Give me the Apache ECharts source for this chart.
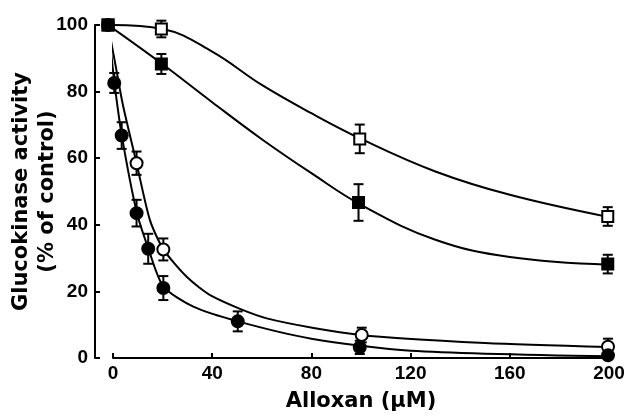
<!DOCTYPE html>
<html>
<head>
<meta charset="utf-8">
<script src="https://cdn.jsdelivr.net/npm/echarts@6/dist/echarts.min.js"></script>
<style>
  html, body { margin: 0; padding: 0; background: #fff; }
  #chart { width: 631px; height: 416px; }
</style>
</head>
<body>
<div id="chart"></div>
<script>
// x ticks / y ticks
const xTicks = [0, 40, 80, 120, 160, 200]
const yTicks = [0, 20, 40, 60, 80, 100]

// open squares
const sqOpenX = [-2, 19.5, 99.5, 199.5]
const sqOpenY = [100, 98.8, 65.8, 42.5]
const sqOpenErr = [0, 2.5, 4.3, 2.8]
const sqOpenCurveX = [-2, 20, 40, 60, 80, 100, 130, 160, 200]
const sqOpenCurveY = [100, 98.8, 92, 82, 73.5, 65.8, 56, 49, 42.3]

// filled squares
const sqFillX = [-2, 19.5, 99, 199.5]
const sqFillY = [100, 88.3, 46.7, 28.2]
const sqFillErr = [0, 3, 5.5, 2.8]
const sqFillCurveX = [-2, 20, 40, 60, 80, 100, 130, 160, 200]
const sqFillCurveY = [100, 88.2, 76.8, 65.7, 55.5, 46, 35.5, 30.3, 28]

// open circles
const cOpenX = [-2, 9.5, 20.3, 100.3, 199.6]
const cOpenY = [100, 58.5, 32.6, 6.9, 3.4]
const cOpenErr = [0, 3.5, 3.3, 2.2, 2.4]
const cOpenCurveX = [-2, 1, 4, 9.5, 14.9, 20.3, 29.7, 40.3, 62, 100, 150, 200]
const cOpenCurveY = [100, 88, 76, 58.5, 41.4, 32.7, 24.4, 18.4, 11.9, 6.9, 4.5, 3.3]

// filled circles
const cFillX = [0.5, 3.5, 9.5, 14.2, 20.3, 50.3, 99.5, 199.6]
const cFillY = [82.6, 66.8, 43.5, 32.8, 21, 11, 3.2, 0.8]
const cFillErr = [3, 4, 4, 4.5, 3.6, 3, 2, 0.8]
const cFillCurveX = [-2, -0.8, 0.5, 3.5, 9.5, 14.2, 20.3, 32.4, 50.3, 80, 120, 200]
const cFillCurveY = [100, 92, 83, 67, 44, 33, 21.5, 15.4, 11, 5.8, 2.2, 0.5]

const zip = (a, b, c) => a.map((v, i) => (c ? [v, b[i], c[i]] : [v, b[i]]))

const chart = echarts.init(document.getElementById('chart'))

// vertical error bar with caps
const errRender = (params, api) => {
  const x = api.value(0)
  const y = api.value(1)
  const e = api.value(2)
  if (!e) return null
  const top = api.coord([x, y + e])
  const bot = api.coord([x, y - e])
  const hw = 5
  const st = { stroke: '#000', lineWidth: 2 }
  return {
    type: 'group',
    children: [
      { type: 'line', shape: { x1: top[0], y1: top[1], x2: bot[0], y2: bot[1] }, style: st },
      { type: 'line', shape: { x1: top[0] - hw, y1: top[1], x2: top[0] + hw, y2: top[1] }, style: st },
      { type: 'line', shape: { x1: bot[0] - hw, y1: bot[1], x2: bot[0] + hw, y2: bot[1] }, style: st }
    ]
  }
}

// filled markers sit on top (the shared control point looks solid)
const groups = [
  { pts: zip(sqOpenX, sqOpenY, sqOpenErr), curve: zip(sqOpenCurveX, sqOpenCurveY), symbol: 'rect', size: 11, fill: '#fff', smooth: 0.4, z: 4 },
  { pts: zip(sqFillX, sqFillY, sqFillErr), curve: zip(sqFillCurveX, sqFillCurveY), symbol: 'rect', size: 11, fill: '#000', smooth: 0.4, z: 5 },
  { pts: zip(cOpenX, cOpenY, cOpenErr), curve: zip(cOpenCurveX, cOpenCurveY), symbol: 'circle', size: 12, fill: '#fff', smooth: 0.25, z: 4 },
  { pts: zip(cFillX, cFillY, cFillErr), curve: zip(cFillCurveX, cFillCurveY), symbol: 'circle', size: 12, fill: '#000', smooth: 0.25, z: 5 }
]

const series = []
groups.forEach(g => {
  series.push({
    type: 'line',
    data: g.curve,
    smooth: g.smooth,
    showSymbol: false,
    clip: false,
    silent: true,
    lineStyle: { color: '#000', width: 2 },
    z: 2
  })
  series.push({
    type: 'custom',
    data: g.pts,
    renderItem: errRender,
    clip: false,
    silent: true,
    z: 3
  })
  series.push({
    type: 'scatter',
    data: g.pts,
    symbol: g.symbol,
    symbolSize: g.size,
    clip: false,
    itemStyle: { color: g.fill, borderColor: '#000', borderWidth: 2, opacity: 1 },
    z: g.z
  })
})

const tickFont = { fontFamily: 'Liberation Sans', fontWeight: 'bold', fontSize: 19, color: '#000' }
const nameFont = { fontFamily: 'DejaVu Sans', fontWeight: 'bold', fontSize: 21, color: '#000' }
const axisLine = { lineStyle: { color: '#000', width: 2 } }
const axisTick = { inside: true, length: 5, lineStyle: { color: '#000', width: 2 } }

// grid 0 holds the data, grid 1 only carries the visible y axis (drawn a bit left of x = 0)
const option = {
  backgroundColor: '#fff',
  animation: false,
  grid: [
    { left: 113, right: 22, top: 25, bottom: 58, containLabel: false, outerBoundsMode: 'none' },
    { left: 95, right: 400, top: 25, bottom: 58, containLabel: false, outerBoundsMode: 'none' }
  ],
  xAxis: [
    {
      type: 'value',
      gridIndex: 0,
      min: xTicks[0],
      max: xTicks[xTicks.length - 1],
      interval: 40,
      name: 'Alloxan (μM)',
      nameLocation: 'middle',
      nameGap: 33,
      nameMoveOverlap: false,
      nameTextStyle: nameFont,
      axisLine: axisLine,
      axisTick: axisTick,
      axisLabel: { ...tickFont, margin: 6 },
      splitLine: { show: false }
    },
    { type: 'value', gridIndex: 1, min: 0, max: 1, show: false }
  ],
  yAxis: [
    {
      type: 'value',
      gridIndex: 0,
      min: yTicks[0],
      max: yTicks[yTicks.length - 1],
      show: false
    },
    {
      type: 'value',
      gridIndex: 1,
      min: yTicks[0],
      max: yTicks[yTicks.length - 1],
      interval: 20,
      name: 'Glucokinase activity\n(% of control)',
      nameLocation: 'middle',
      nameRotate: 90,
      nameGap: 34,
      nameMoveOverlap: false,
      nameTextStyle: { ...nameFont, lineHeight: 26 },
      axisLine: axisLine,
      axisTick: axisTick,
      axisLabel: { ...tickFont, margin: 7 },
      splitLine: { show: false }
    }
  ],
  series: series
}

chart.setOption(option)
</script>
</body>
</html>
